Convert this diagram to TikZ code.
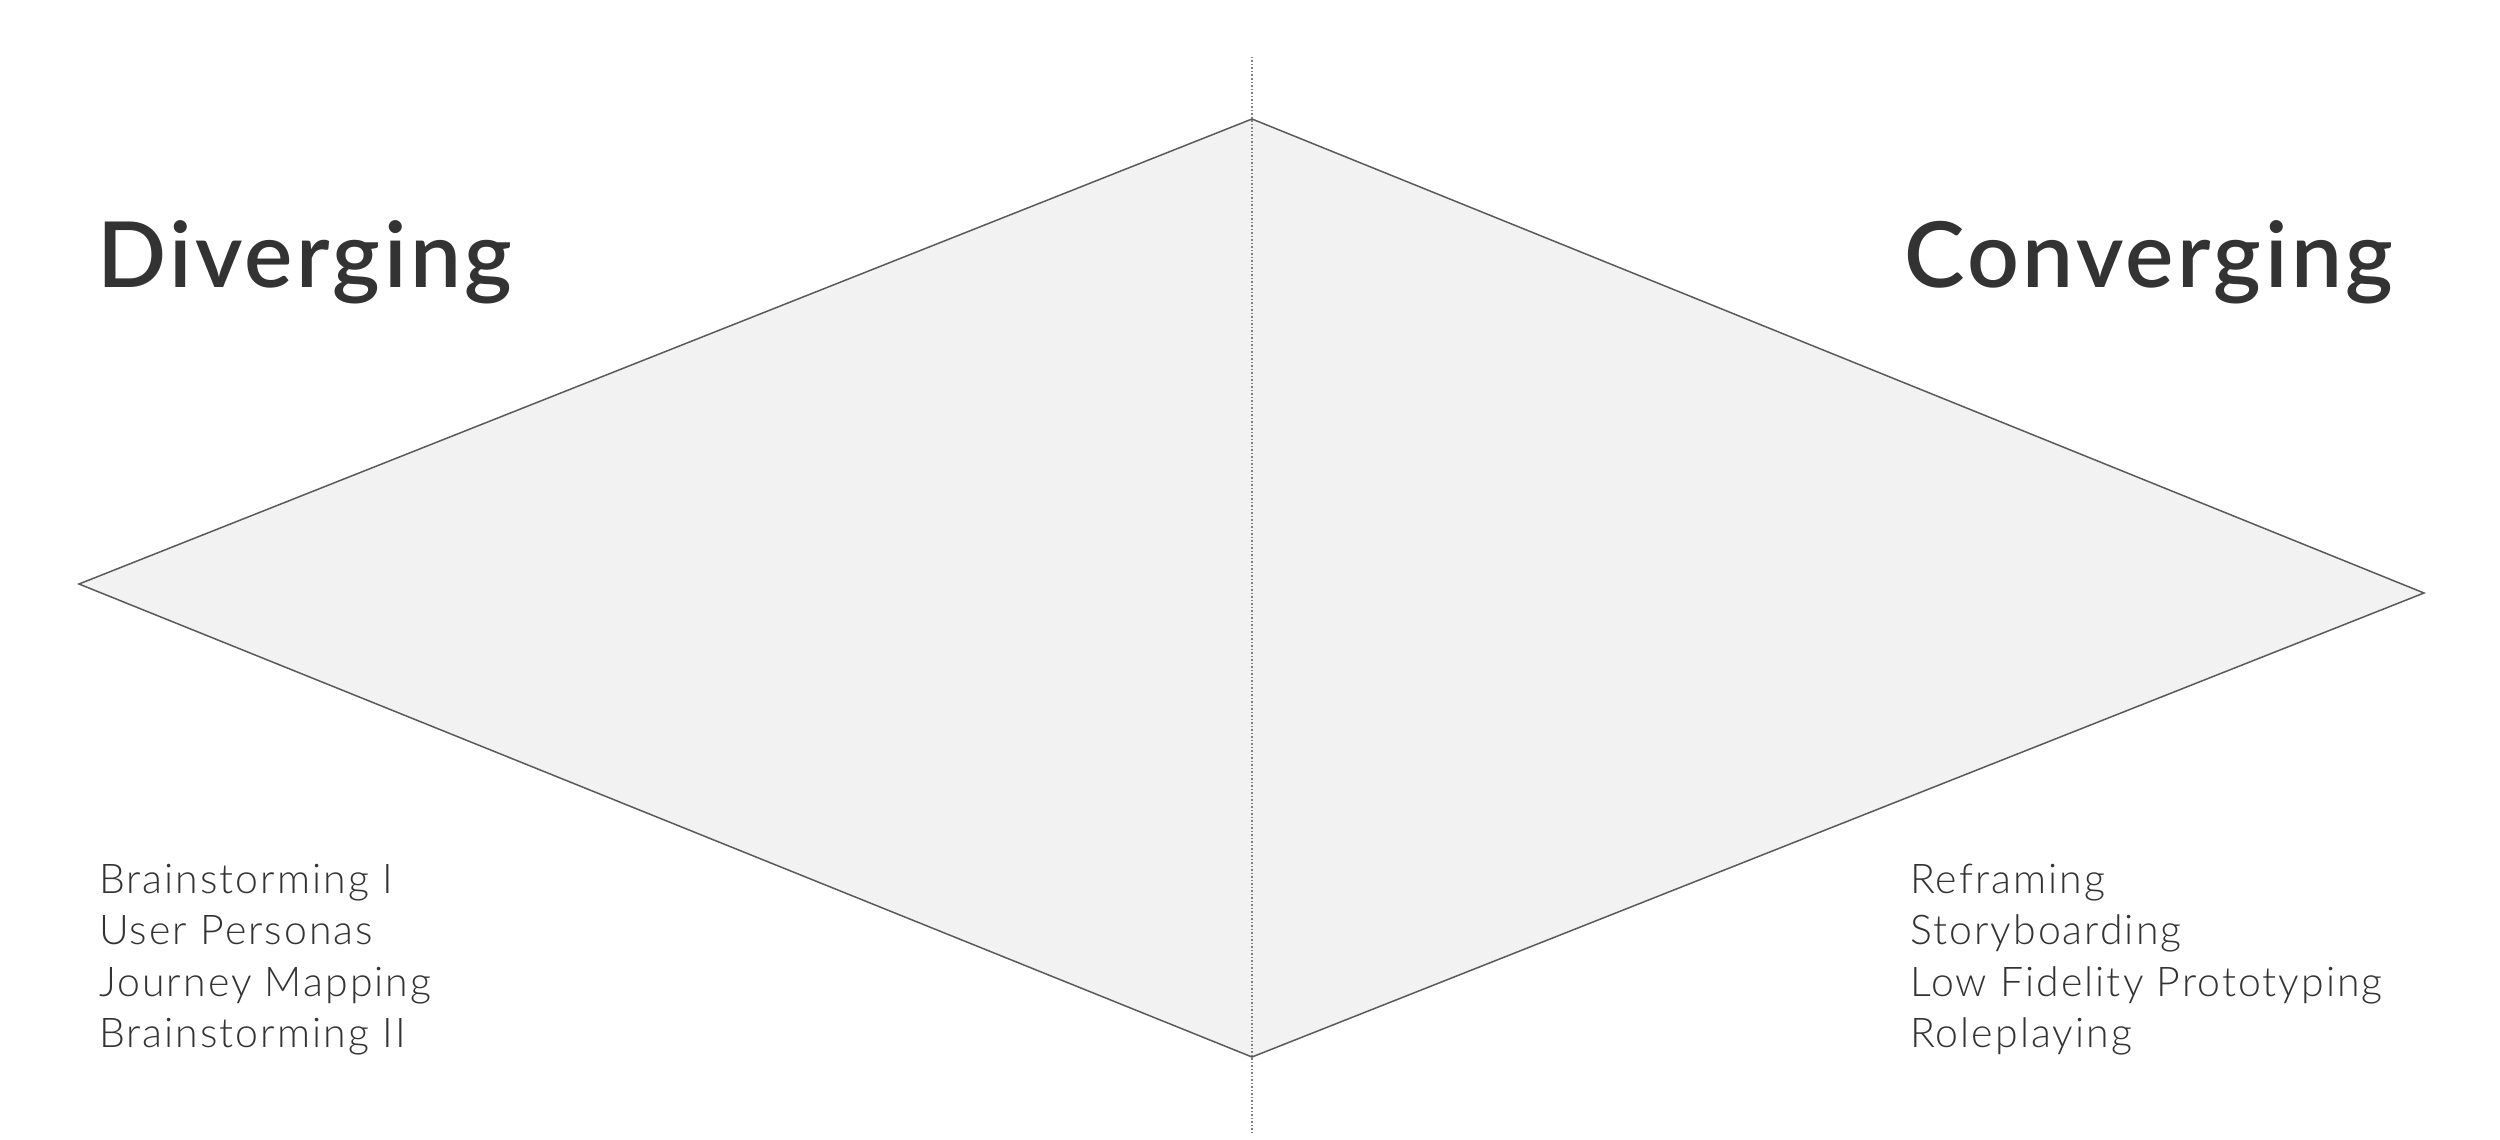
\documentclass[tikz,border=0pt]{standalone}
\usepackage{fontspec}
\setmainfont{Lato}
\newfontfamily\lightfont[LetterSpace=5]{Lato Light}
\newfontfamily\semifont[LetterSpace=3.8]{Lato Semibold}
\definecolor{txt}{HTML}{333333}
\definecolor{shapefill}{HTML}{F2F2F2}
\definecolor{edge}{HTML}{5A5A5A}
\begin{document}
\begin{tikzpicture}[x=1pt,y=-1pt,
  title/.style={anchor=base west,inner sep=0pt,text=txt,font=\semifont\fontsize{91}{100}\selectfont},
  item/.style={anchor=base west,inner sep=0pt,text=txt,font=\lightfont\fontsize{41}{51}\selectfont},
  outline/.style={draw=edge,line width=1.5pt,fill=shapefill,line join=miter},
  axis/.style={draw=gray,line width=1.5pt,dotted}]
\useasboundingbox (0,0) rectangle (2500,1140);
\coordinate (L) at (79,584);
\coordinate (T) at (1252,119);
\coordinate (R) at (2424,593);
\coordinate (B) at (1252,1057);
\coordinate (axtop) at (1252,57);
\coordinate (axbot) at (1252,1135);
\path[outline] (L) -- (T) -- (R) -- (B) -- cycle;
\draw[axis] (axtop) -- (axbot);
\node[title] (div) at (97,287) {Diverging};
\node[title] (conv) at (1904,287) {Converging};
\node[item] (l1) at (99,893) {Brainstorming I};
\node[item] (l2) at (99,944) {User Personas};
\node[item] (l3) at (99,996) {Journey Mapping};
\node[item] (l4) at (99,1047) {Brainstorming II};
\node[item] (r1) at (1910,893) {Reframing};
\node[item] (r2) at (1910,944) {Storyboarding};
\node[item] (r3) at (1910,996) {Low Fidelity Prototyping};
\node[item] (r4) at (1910,1047) {Roleplaying};
\end{tikzpicture}
\end{document}
